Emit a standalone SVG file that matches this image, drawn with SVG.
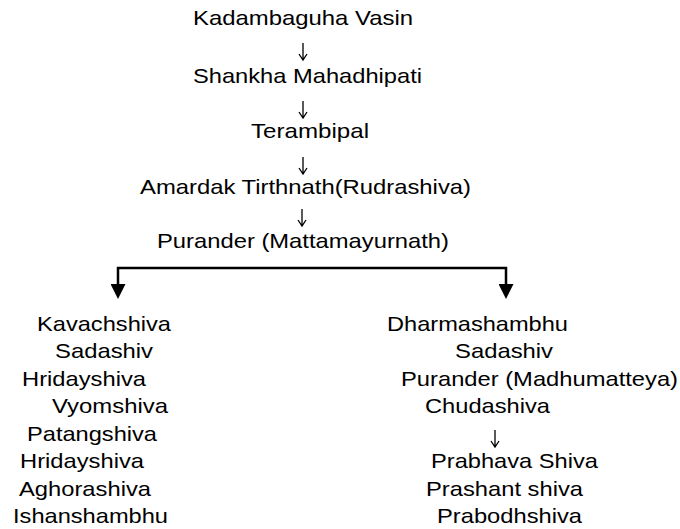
<svg xmlns="http://www.w3.org/2000/svg" width="680" height="529" viewBox="0 0 680 529">
<style>
text{font-family:"Liberation Sans",Arial,sans-serif;font-size:21px;fill:#000}
.ln{fill:none;stroke:#000;stroke-width:2.5}
.sa{fill:none;stroke:#000;stroke-width:1.3;stroke-linecap:butt;stroke-linejoin:miter}
</style>
<defs>
<marker id="ah" markerUnits="userSpaceOnUse" viewBox="0 0 15 15" markerWidth="15" markerHeight="15" refX="0" refY="7.5" orient="auto-start-reverse">
<path d="M0,0 L15,7.5 L0,15 Z" fill="#000"/>
</marker>
</defs>
<rect width="680" height="529" fill="#fff"/>
<g id="connectors">
<path class="ln" d="M118,284 V268 H506 V284" marker-start="url(#ah)" marker-end="url(#ah)"/>
<path class="sa" d="M303,43 V60 M299,54 L303,60 L307,54"/>
<path class="sa" d="M303,101 V118 M299,112 L303,118 L307,112"/>
<path class="sa" d="M303,157 V174 M299,168 L303,174 L307,168"/>
<path class="sa" d="M302,209 V226 M298,220 L302,226 L306,220"/>
<path class="sa" d="M495,430 V447 M491,441 L495,447 L499,441"/>
</g>
<g id="n-kadambaguha"><text x="193" y="25" textLength="220" lengthAdjust="spacingAndGlyphs">Kadambaguha Vasin</text></g>
<g id="n-shankha"><text x="193" y="83" textLength="229" lengthAdjust="spacingAndGlyphs">Shankha Mahadhipati</text></g>
<g id="n-terambipal"><text x="251" y="138" textLength="118" lengthAdjust="spacingAndGlyphs">Terambipal</text></g>
<g id="n-amardak"><text x="140" y="194" textLength="331" lengthAdjust="spacingAndGlyphs">Amardak Tirthnath(Rudrashiva)</text></g>
<g id="n-purander-m"><text x="157" y="248" textLength="292" lengthAdjust="spacingAndGlyphs">Purander (Mattamayurnath)</text></g>
<g id="left-list">
<g id="n-kavachshiva"><text x="37" y="331" textLength="134" lengthAdjust="spacingAndGlyphs">Kavachshiva</text></g>
<g id="n-sadashiv-l"><text x="55" y="358" textLength="98" lengthAdjust="spacingAndGlyphs">Sadashiv</text></g>
<g id="n-hridayshiva-1"><text x="22" y="386" textLength="124" lengthAdjust="spacingAndGlyphs">Hridayshiva</text></g>
<g id="n-vyomshiva"><text x="52" y="413" textLength="116" lengthAdjust="spacingAndGlyphs">Vyomshiva</text></g>
<g id="n-patangshiva"><text x="27" y="441" textLength="130" lengthAdjust="spacingAndGlyphs">Patangshiva</text></g>
<g id="n-hridayshiva-2"><text x="20" y="468" textLength="124" lengthAdjust="spacingAndGlyphs">Hridayshiva</text></g>
<g id="n-aghorashiva"><text x="19" y="496" textLength="132" lengthAdjust="spacingAndGlyphs">Aghorashiva</text></g>
<g id="n-ishanshambhu"><text x="13" y="523" textLength="155" lengthAdjust="spacingAndGlyphs">Ishanshambhu</text></g>
</g>
<g id="right-list">
<g id="n-dharmashambhu"><text x="387" y="331" textLength="181" lengthAdjust="spacingAndGlyphs">Dharmashambhu</text></g>
<g id="n-sadashiv-r"><text x="455" y="358" textLength="98" lengthAdjust="spacingAndGlyphs">Sadashiv</text></g>
<g id="n-purander-md"><text x="401" y="386" textLength="277" lengthAdjust="spacingAndGlyphs">Purander (Madhumatteya)</text></g>
<g id="n-chudashiva"><text x="425" y="413" textLength="125" lengthAdjust="spacingAndGlyphs">Chudashiva</text></g>
<g id="n-prabhava"><text x="431" y="468" textLength="167" lengthAdjust="spacingAndGlyphs">Prabhava Shiva</text></g>
<g id="n-prashant"><text x="426" y="496" textLength="157" lengthAdjust="spacingAndGlyphs">Prashant shiva</text></g>
<g id="n-prabodhshiva"><text x="437" y="523" textLength="145" lengthAdjust="spacingAndGlyphs">Prabodhshiva</text></g>
</g>
</svg>
